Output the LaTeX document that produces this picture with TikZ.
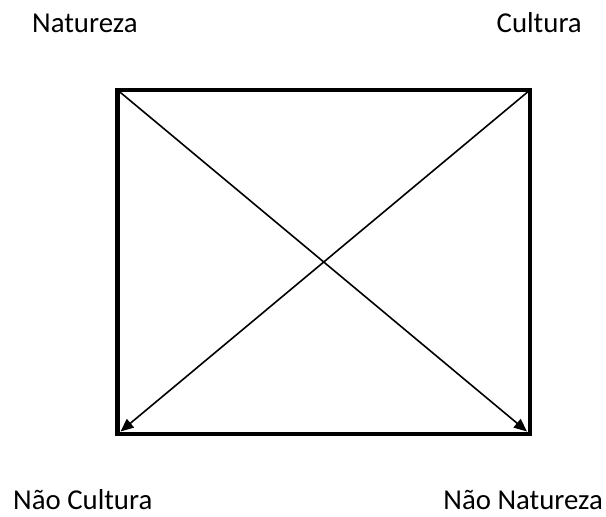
\documentclass[tikz,border=0pt]{standalone}
\usepackage{fontspec}
\setmainfont{Carlito}
\usetikzlibrary{arrows.meta}
\tikzset{
  lbl/.style={inner sep=0pt,font=\fontsize{28.8}{34}\selectfont},
  frame/.style={line width=4.5pt,line join=miter},
  diag/.style={line width=1.6pt,-{Triangle[length=13pt,width=11pt]}}
}
\begin{document}
\begin{tikzpicture}[x=1pt,y=-1pt]
\useasboundingbox (0,0) rectangle (606,517);
\coordinate (tl) at (117.5,90);
\coordinate (tr) at (530,90);
\coordinate (bl) at (117.5,434);
\coordinate (br) at (530,434);
\coordinate (bli) at (120.5,431.5);
\coordinate (bri) at (527,431.5);
\draw[frame] (tl) rectangle (br);
\draw[diag] (tl) -- (bri);
\draw[diag] (tr) -- (bli);
\node[lbl,anchor=base west] (nat) at (32,32) {Natureza};
\node[lbl,anchor=base east] (cul) at (582,32) {Cultura};
\node[lbl,anchor=base west] (ncul) at (13,509) {Não Cultura};
\node[lbl,anchor=base east] (nnat) at (603,509) {Não Natureza};
\end{tikzpicture}
\end{document}
